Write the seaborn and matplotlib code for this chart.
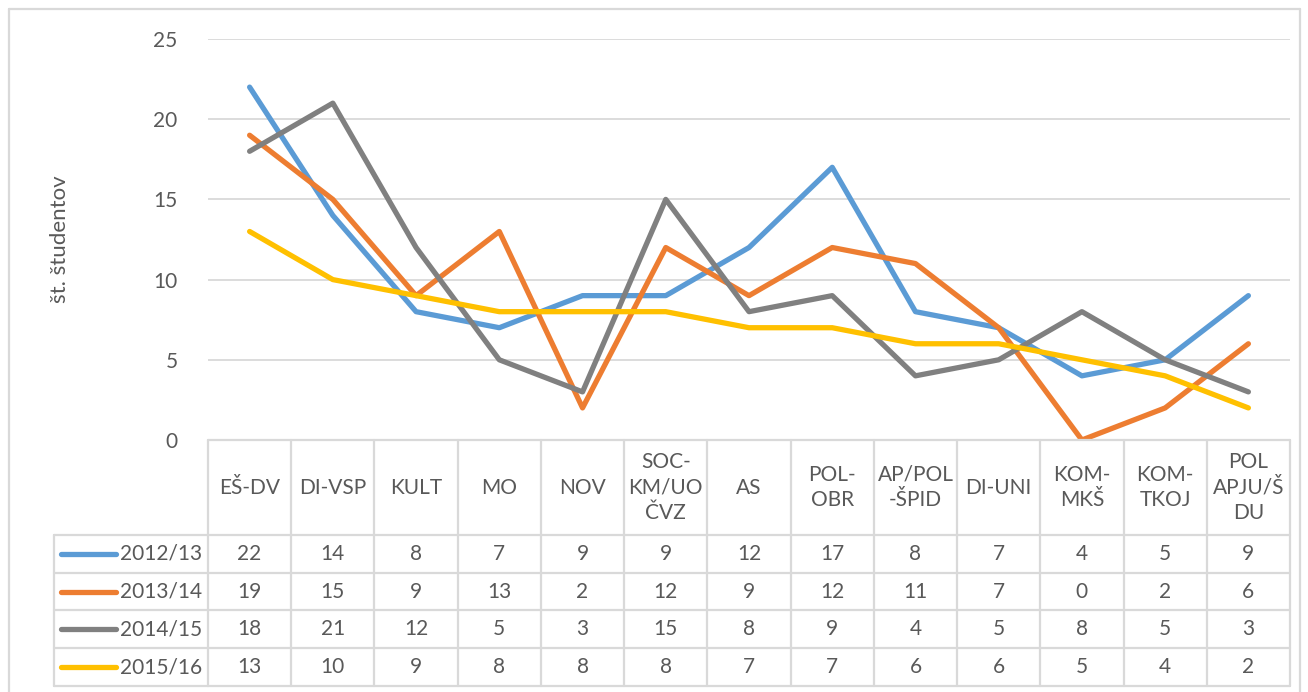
import numpy as np
import pandas as pd
import seaborn as sns
import matplotlib.pyplot as plt
from matplotlib.lines import Line2D
from matplotlib.transforms import blended_transform_factory

# data
kategorije = ['EŠ-DV', 'DI-VSP', 'KULT', 'MO', 'NOV', 'SOC-\nKM/UO\nČVZ', 'AS',
              'POL-\nOBR', 'AP/POL\n-ŠPID', 'DI-UNI', 'KOM-\nMKŠ', 'KOM-\nTKOJ',
              'POL\nAPJU/Š\nDU']
leta = ['2012/13', '2013/14', '2014/15', '2015/16']
v_2012 = [22, 14, 8, 7, 9, 9, 12, 17, 8, 7, 4, 5, 9]
v_2013 = [19, 15, 9, 13, 2, 12, 9, 12, 11, 7, 0, 2, 6]
v_2014 = [18, 21, 12, 5, 3, 15, 8, 9, 4, 5, 8, 5, 3]
v_2015 = [13, 10, 9, 8, 8, 8, 7, 7, 6, 6, 5, 4, 2]
barve = ['#5B9BD5', '#ED7D31', '#808080', '#FFC000']

vrednosti = [v_2012, v_2013, v_2014, v_2015]
df = pd.DataFrame({
    'x': np.tile(np.arange(len(kategorije)), len(leta)),
    'leto': np.repeat(leta, len(kategorije)),
    'st': np.concatenate(vrednosti),
})

sns.set_style('white')
plt.rcParams['font.family'] = ['Lato', 'DejaVu Sans']
txt = '#595959'
grid = '#D9D9D9'
fs = 15
W, H = 1308, 692

fig = plt.figure(figsize=(W / 100, H / 100), dpi=100)
ax = fig.add_axes([208 / W, (H - 440) / H, (1290 - 208) / W, (440 - 39) / H])

sns.lineplot(data=df, x='x', y='st', hue='leto', palette=barve, ax=ax,
             linewidth=3.8, legend=False, solid_capstyle='round',
             solid_joinstyle='round')

ax.set_xlim(-0.5, len(kategorije) - 0.5)
ax.set_ylim(0, 25)
ax.set_yticks([0, 5, 10, 15, 20, 25])
ax.set_yticklabels(['0', '5', '10', '15', '20', '25'], fontsize=fs, color=txt)
ax.tick_params(axis='y', length=0, pad=22)
ax.set_xticks([])
ax.set_xlabel('')
ax.set_ylabel('št. študentov', fontsize=fs + 1, color=txt, labelpad=0)
ax.yaxis.set_label_coords(-0.128, 0.5)
for s in ax.spines.values():
    s.set_visible(False)
for y in [5, 10, 15, 20, 25]:
    ax.axhline(y, color=grid, lw=1.3, zorder=0)

# table below the axes
tr = blended_transform_factory(ax.transData, fig.transFigure)
ff = fig.transFigure

def fy(p):
    return 1 - p / H

rows = [440, 535, 573, 610, 648, 686]
n = len(kategorije)
xl, xr = -0.5, n - 0.5
lkw = dict(color=grid, lw=1.6, clip_on=False)

# horizontal lines
fig.add_artist(Line2D([xl, xr], [fy(440), fy(440)], transform=tr, **lkw))
for r in rows[1:]:
    fig.add_artist(Line2D([54 / W, 208 / W], [fy(r), fy(r)], transform=ff, **lkw))
    fig.add_artist(Line2D([xl, xr], [fy(r), fy(r)], transform=tr, **lkw))
# vertical lines
for i in range(n + 1):
    fig.add_artist(Line2D([i - 0.5, i - 0.5], [fy(440), fy(686)], transform=tr, **lkw))
fig.add_artist(Line2D([54 / W, 54 / W], [fy(535), fy(686)], transform=ff, **lkw))

# header texts
for i, k in enumerate(kategorije):
    fig.text(i, fy((440 + 535) / 2), k, transform=tr, ha='center', va='center',
             fontsize=fs, color=txt, linespacing=1.35)

# value rows with legend keys
for j, (leto, vals, c) in enumerate(zip(leta, vrednosti, barve)):
    yc = fy((rows[j + 1] + rows[j + 2]) / 2)
    fig.add_artist(Line2D([61 / W, 116 / W], [yc, yc], transform=ff, color=c,
                          lw=3.8, solid_capstyle='round'))
    fig.text(202 / W, yc, leto, ha='right', va='center', fontsize=fs, color=txt)
    for i, v in enumerate(vals):
        fig.text(i, yc, str(v), transform=tr, ha='center', va='center',
                 fontsize=fs, color=txt)

# outer chart border
bkw = dict(color=grid, lw=1.6)
fig.add_artist(Line2D([9 / W, 9 / W], [0, fy(9)], transform=ff, **bkw))
fig.add_artist(Line2D([9 / W, 1300 / W], [fy(9), fy(9)], transform=ff, **bkw))
fig.add_artist(Line2D([1300 / W, 1300 / W], [0, fy(9)], transform=ff, **bkw))

fig.savefig('out.png', dpi=100)
